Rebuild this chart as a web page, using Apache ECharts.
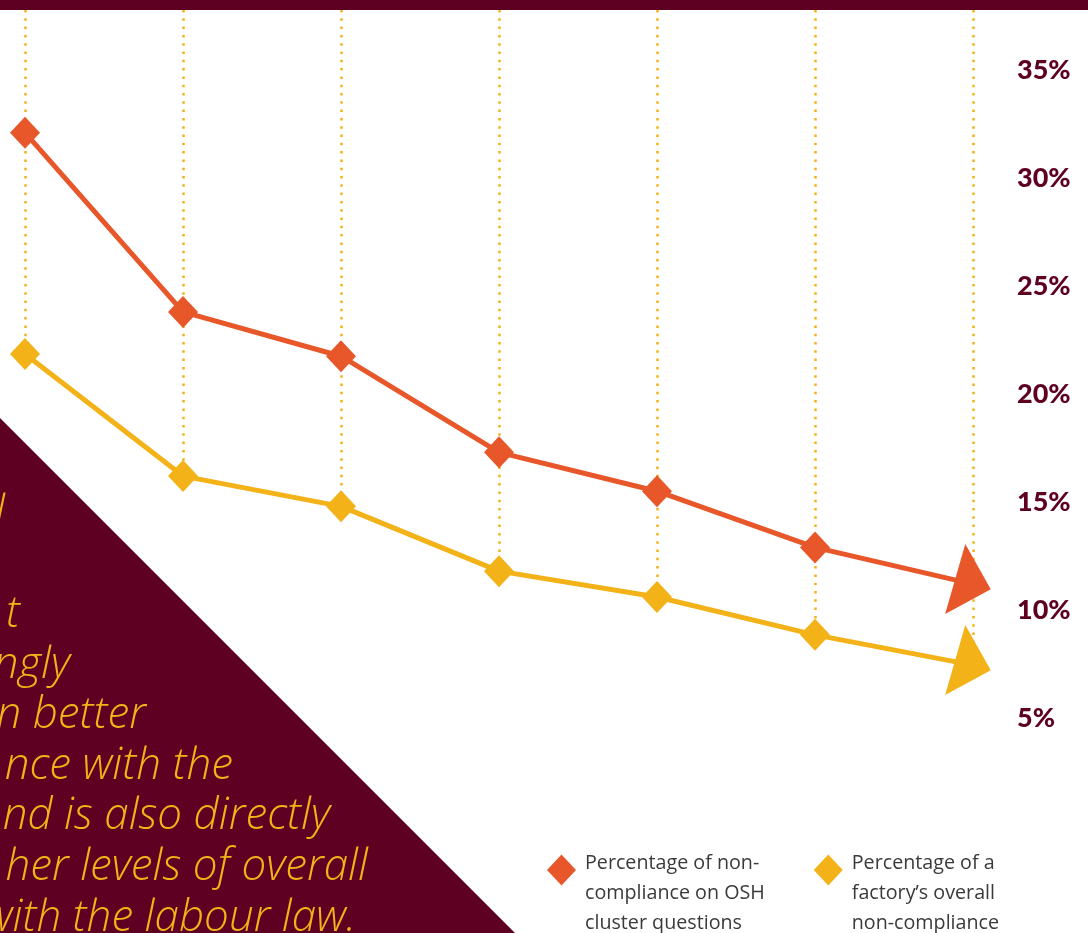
<!DOCTYPE html>
<html>
<head>
<meta charset="utf-8">
<script src="https://cdn.jsdelivr.net/npm/echarts@6/dist/echarts.min.js"></script>
<style>
  html, body { margin: 0; padding: 0; background: #ffffff; }
  #chart { width: 1088px; height: 933px; }
</style>
</head>
<body>
<div id="chart"></div>
<script>
// ---- data ----
const categories = ['1', '2', '3', '4', '5', '6', '7'];
const oshValues = [32.1, 23.8, 21.75, 17.3, 15.5, 12.9, 11.2];
const overallValues = [21.85, 16.2, 14.8, 11.8, 10.6, 8.85, 7.45];
const seriesNames = [
  'Percentage of non-compliance on OSH cluster questions',
  'Percentage of a factory\u2019s overall non-compliance'
];
const legendLabels = [
  ['Percentage of non-', 'compliance on OSH', 'cluster questions'],
  ['Percentage of a', 'factory\u2019s overall', 'non-compliance']
];
const yTickLabels = ['5%', '10%', '15%', '20%', '25%', '30%', '35%'];
const calloutLines = [
  'l', '', 't', 'ngly', 'n better', 'nce with the',
  'nd is also directly', 'her levels of overall', 'with the labour law.'
];
const calloutRightEdges = [5, 0, 20, 70, 146, 233, 330, 368, 356];

// ---- style ----
const MAROON = '#5e0022';
const ORANGE = '#e8572a';
const YELLOW = '#f3b217';
const Y_MAX = 37.78;

const chart = echarts.init(document.getElementById('chart'), null, { renderer: 'canvas' });

function lineData(values) {
  const last = values.length - 1;
  return values.map((v, i) => i === last
    ? { value: v, symbol: 'triangle', symbolSize: [73, 37], symbolRotate: -106 }
    : v);
}

const graphics = [
  { type: 'rect', left: 0, top: 0, z: 0, shape: { width: 1088, height: 10 }, style: { fill: MAROON } },
  { type: 'polygon', z: 0, shape: { points: [[0, 418], [515, 933], [0, 933]] }, style: { fill: MAROON } }
];
calloutLines.forEach((t, k) => {
  if (!t) return;
  graphics.push({
    type: 'text', z: 1,
    x: calloutRightEdges[k], y: 918 - (calloutLines.length - 1 - k) * 50.6,
    style: {
      text: t, align: 'right', verticalAlign: 'middle',
      font: 'italic 300 44px "Open Sans"', fill: YELLOW
    }
  });
});

const option = {
  animation: false,
  backgroundColor: '#ffffff',
  grid: { left: 25, right: 115, top: 10, bottom: 107, containLabel: false },
  xAxis: {
    type: 'category', data: categories, boundaryGap: false,
    axisLine: { show: false }, axisTick: { show: false }, axisLabel: { show: false },
    splitLine: { show: false }
  },
  yAxis: {
    type: 'value', position: 'right', min: 0, max: Y_MAX, interval: 5,
    axisLine: { show: false }, axisTick: { show: false }, splitLine: { show: false },
    axisLabel: {
      margin: 44, showMinLabel: false, showMaxLabel: false,
      color: MAROON, fontFamily: 'Lato', fontWeight: 900, fontSize: 27,
      formatter: v => { const i = Math.round(v / 5) - 1; return (Math.abs(v % 5) < 1e-9 && yTickLabels[i]) ? yTickLabels[i] : ''; }
    }
  },
  legend: {
    left: 547, top: 820, padding: 0, orient: 'horizontal',
    icon: 'diamond', itemWidth: 29, itemHeight: 31, itemGap: 49,
    selectedMode: false,
    data: seriesNames,
    formatter: name => '{s| }\n' + legendLabels[seriesNames.indexOf(name)].map(l => '{t|' + l + '}').join('\n'),
    textStyle: {
      fontFamily: 'Open Sans', fontSize: 19.7, color: '#3a3a3a', width: 200,
      padding: [0, 0, 0, 4],
      rich: {
        s: { fontSize: 10, lineHeight: 46, fontFamily: 'Open Sans' },
        t: { fontFamily: 'Open Sans', fontSize: 19.7, lineHeight: 30, color: '#3a3a3a' }
      }
    }
  },
  graphic: graphics,
  series: [
    {
      name: seriesNames[1], type: 'line', data: lineData(overallValues), z: 3,
      symbol: 'diamond', symbolSize: [30, 32],
      lineStyle: { width: 5, color: YELLOW }, itemStyle: { color: YELLOW },
      markLine: {
        silent: true, symbol: ['none', 'none'], label: { show: false }, z: 1,
        lineStyle: { color: YELLOW, width: 2.5, type: [2.5, 5.8], opacity: 1 },
        data: overallValues.map((v, i) => [{ coord: [i, Y_MAX] }, { coord: [i, v] }])
      }
    },
    {
      name: seriesNames[0], type: 'line', data: lineData(oshValues), z: 4,
      symbol: 'diamond', symbolSize: [30, 32],
      lineStyle: { width: 5, color: ORANGE }, itemStyle: { color: ORANGE }
    }
  ]
};
chart.setOption(option);
</script>
</body>
</html>
